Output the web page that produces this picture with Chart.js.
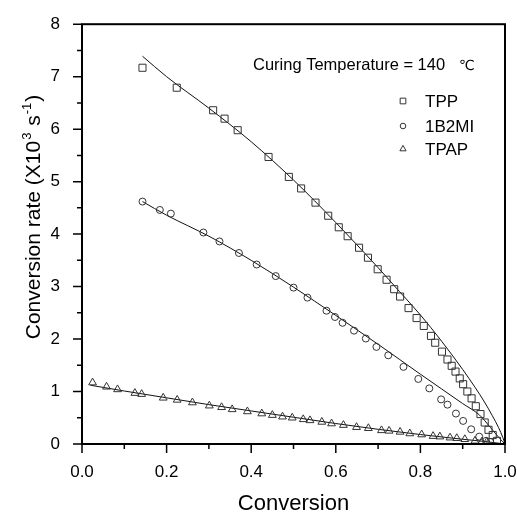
<!DOCTYPE html>
<html>
<head>
<meta charset="utf-8">
<script src="https://cdn.jsdelivr.net/npm/chart.js@4.4.1/dist/chart.umd.min.js"></script>
<style>
  body { margin: 0; background: #fff; }
  canvas { display: block; }
</style>
</head>
<body>
<canvas id="chart" width="517" height="512"></canvas>
<script>
// measured points
const tppX = [0.143, 0.224, 0.310, 0.337, 0.368, 0.441, 0.489, 0.518, 0.552, 0.582, 0.607, 0.628, 0.655, 0.676, 0.699, 0.720, 0.738, 0.752, 0.772, 0.791, 0.808, 0.825, 0.835, 0.851, 0.864, 0.874, 0.883, 0.893, 0.901, 0.911, 0.921, 0.931, 0.942, 0.952, 0.961, 0.971, 0.981];
const tppY = [7.17, 6.79, 6.36, 6.20, 5.98, 5.47, 5.09, 4.87, 4.60, 4.35, 4.13, 3.96, 3.74, 3.55, 3.33, 3.13, 2.95, 2.81, 2.59, 2.40, 2.25, 2.06, 1.93, 1.76, 1.61, 1.49, 1.38, 1.25, 1.14, 1.00, 0.87, 0.72, 0.57, 0.41, 0.27, 0.17, 0.06];

const b2miX = [0.143, 0.184, 0.210, 0.287, 0.325, 0.371, 0.413, 0.458, 0.500, 0.533, 0.578, 0.598, 0.616, 0.643, 0.671, 0.696, 0.724, 0.760, 0.795, 0.821, 0.849, 0.864, 0.884, 0.901, 0.920, 0.939, 0.955, 0.965];
const b2miY = [4.62, 4.46, 4.39, 4.03, 3.86, 3.64, 3.42, 3.20, 2.98, 2.79, 2.54, 2.42, 2.31, 2.16, 2.01, 1.85, 1.69, 1.47, 1.24, 1.06, 0.85, 0.75, 0.58, 0.44, 0.28, 0.14, 0.06, 0.04];

const tpapX = [0.025, 0.058, 0.084, 0.125, 0.141, 0.192, 0.225, 0.261, 0.301, 0.330, 0.355, 0.391, 0.425, 0.450, 0.474, 0.497, 0.523, 0.539, 0.567, 0.590, 0.618, 0.649, 0.677, 0.708, 0.726, 0.752, 0.775, 0.803, 0.830, 0.846, 0.870, 0.886, 0.905, 0.929, 0.945, 0.957];
const tpapY = [1.17, 1.09, 1.04, 0.97, 0.95, 0.88, 0.84, 0.79, 0.73, 0.70, 0.66, 0.62, 0.58, 0.55, 0.52, 0.50, 0.47, 0.45, 0.42, 0.39, 0.36, 0.32, 0.30, 0.26, 0.25, 0.23, 0.20, 0.18, 0.15, 0.14, 0.12, 0.11, 0.09, 0.06, 0.04, 0.04];

// model curves
const tppFitX = [0.143, 0.2, 0.3, 0.4, 0.5, 0.6, 0.7, 0.75, 0.8, 0.85, 0.9, 0.93, 0.95, 0.97, 0.985, 0.995, 1.0];
const tppFitY = [7.39, 7.0, 6.40, 5.76, 5.03, 4.22, 3.36, 2.91, 2.46, 1.96, 1.42, 1.07, 0.82, 0.54, 0.31, 0.12, 0];
const b2miFitX = [0.143, 0.2, 0.3, 0.4, 0.5, 0.6, 0.7, 0.8, 0.85, 0.9, 0.94, 0.965, 0.988, 1.0];
const b2miFitY = [4.62, 4.36, 3.96, 3.50, 2.99, 2.45, 1.90, 1.33, 1.05, 0.77, 0.55, 0.32, 0.10, 0];
const tpapFitX = [0.02, 0.1, 0.2, 0.3, 0.4, 0.5, 0.6, 0.7, 0.8, 0.9, 0.95, 1.0];
const tpapFitY = [1.12, 1.01, 0.88, 0.75, 0.63, 0.51, 0.39, 0.28, 0.18, 0.09, 0.05, 0];

const seriesNames = ['TPP', '1B2MI', 'TPAP'];
const xMajor = [0, 0.2, 0.4, 0.6, 0.8, 1.0];
const xMinor = [0.1, 0.3, 0.5, 0.7, 0.9];
const yMajor = [0, 1, 2, 3, 4, 5, 6, 7, 8];
const yMinor = [0.5, 1.5, 2.5, 3.5, 4.5, 5.5, 6.5, 7.5];

const FONT = '"Liberation Sans", Arial, sans-serif';
Chart.defaults.font.family = FONT;
Chart.defaults.color = '#000';

const pts = (xs, ys) => xs.map((v, i) => ({x: v, y: ys[i]}));

function markers(label, xs, ys, style, r) {
  return {
    label, data: pts(xs, ys), showLine: false,
    pointStyle: style, pointRadius: r, pointBorderWidth: 1,
    pointBorderColor: '#333', pointBackgroundColor: 'rgba(0,0,0,0)'
  };
}
function fit(xs, ys) {
  return {
    data: pts(xs, ys), showLine: true, pointRadius: 0,
    borderColor: '#111', borderWidth: 1, cubicInterpolationMode: 'monotone'
  };
}

const styles = [['rect', 5], ['circle', 3.5], ['triangle', 4.5]];

const decor = {
  id: 'decor',
  afterDraw(chart) {
    const {ctx, chartArea: a, scales: {x, y}} = chart;
    ctx.save();
    ctx.strokeStyle = '#000';
    ctx.lineWidth = 2;
    ctx.strokeRect(a.left, a.top, a.right - a.left, a.bottom - a.top);

    ctx.lineWidth = 1.5;
    ctx.beginPath();
    xMajor.forEach(v => { const p = x.getPixelForValue(v); ctx.moveTo(p, a.bottom); ctx.lineTo(p, a.bottom + 9); });
    xMinor.forEach(v => { const p = x.getPixelForValue(v); ctx.moveTo(p, a.bottom); ctx.lineTo(p, a.bottom + 5); });
    yMajor.forEach(v => { const p = y.getPixelForValue(v); ctx.moveTo(a.left, p); ctx.lineTo(a.left - 9, p); });
    yMinor.forEach(v => { const p = y.getPixelForValue(v); ctx.moveTo(a.left, p); ctx.lineTo(a.left - 5, p); });
    ctx.stroke();

    // annotation
    ctx.fillStyle = '#000';
    ctx.textBaseline = 'alphabetic';
    ctx.textAlign = 'left';
    ctx.font = '16.5px ' + FONT;
    ctx.fillText('Curing Temperature = 140', 253, 70);
    ctx.font = '14px "DejaVu Sans", sans-serif';
    ctx.fillText('\u2103', 459, 70);

    // legend
    const rows = [101, 126, 149];
    seriesNames.forEach((name, i) => {
      ctx.strokeStyle = '#333';
      ctx.fillStyle = 'rgba(0,0,0,0)';
      ctx.lineWidth = 1;
      Chart.helpers.drawPoint(ctx, {pointStyle: styles[i][0], radius: styles[i][1] * 0.8, borderWidth: 1, rotation: 0}, 403, rows[i]);
      ctx.fillStyle = '#000';
      ctx.font = '17px ' + FONT;
      ctx.textBaseline = 'middle';
      ctx.fillText(name, 425, rows[i] + 1);
    });

    // x title
    ctx.textAlign = 'center';
    ctx.textBaseline = 'alphabetic';
    ctx.font = '22px ' + FONT;
    ctx.fillText('Conversion', (a.left + a.right) / 2, 510);

    // y title with superscripts
    ctx.save();
    ctx.translate(40, 217);
    ctx.rotate(-Math.PI / 2);
    ctx.textAlign = 'left';
    const big = '21px ' + FONT, small = '13px ' + FONT;
    const parts = [['Conversion rate (X10', big, 0], ['3', small, -9], [' s', big, 0], ['-1', small, -9], [')', big, 0]];
    let total = 0;
    parts.forEach(p => { ctx.font = p[1]; total += ctx.measureText(p[0]).width + (p[1] === small ? 2 : 0); });
    let cx = -total / 2;
    parts.forEach(p => {
      ctx.font = p[1];
      const pad = p[1] === small ? 1 : 0;
      ctx.fillText(p[0], cx + pad, p[2]);
      cx += ctx.measureText(p[0]).width + pad * 2;
    });
    ctx.restore();
    ctx.restore();
  }
};

new Chart(document.getElementById('chart'), {
  type: 'scatter',
  data: {
    datasets: [
      markers(seriesNames[0], tppX, tppY, 'rect', 5),
      markers(seriesNames[1], b2miX, b2miY, 'circle', 3.5),
      markers(seriesNames[2], tpapX, tpapY, 'triangle', 4.5),
      fit(tppFitX, tppFitY),
      fit(b2miFitX, b2miFitY),
      fit(tpapFitX, tpapFitY)
    ]
  },
  options: {
    responsive: false,
    animation: false,
    layout: { padding: { left: 0, right: 12, top: 20, bottom: 0 } },
    plugins: { legend: { display: false }, tooltip: { enabled: false } },
    scales: {
      x: {
        type: 'linear', min: 0, max: 1,
        grid: { display: false }, border: { display: false },
        ticks: { stepSize: 0.2, padding: 10, font: { size: 17 }, callback: v => v.toFixed(1) },
        afterFit: s => { s.height = 68; s.paddingLeft = 0; s.paddingRight = 0; }
      },
      y: {
        type: 'linear', min: 0, max: 8,
        grid: { display: false }, border: { display: false },
        ticks: { stepSize: 1, padding: 14, font: { size: 17 } },
        afterFit: s => { s.width = 82; }
      }
    }
  },
  plugins: [decor]
});
</script>
</body>
</html>
